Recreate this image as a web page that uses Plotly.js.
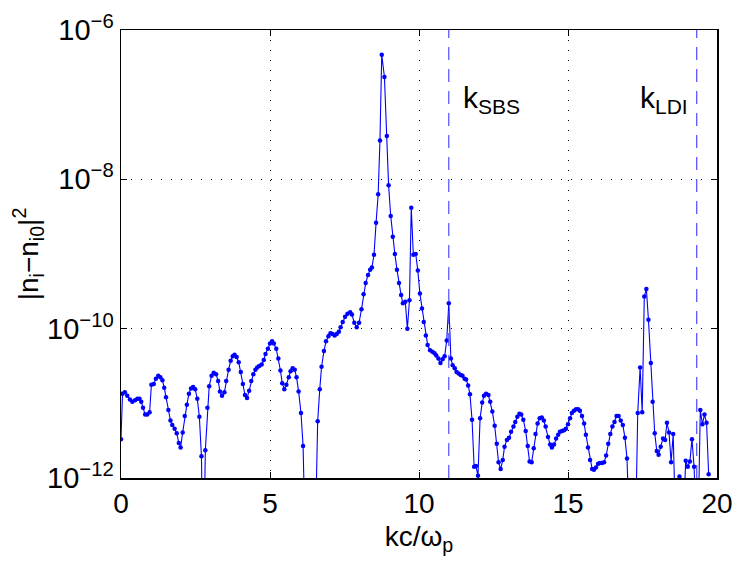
<!DOCTYPE html>
<html>
<head>
<meta charset="utf-8">
<script src="https://cdn.plot.ly/plotly-3.0.1.min.js"></script>
<style>html,body{margin:0;padding:0;background:#fff;}#plot{width:737px;height:563px;}</style>
</head>
<body>
<div id="plot"></div>
<script>
// wavenumber kc/omega_p
const kValues = [
0.00,0.05,0.13,0.21,0.30,0.38,0.47,0.55,0.62,0.68,0.74,0.81,0.88,0.96,1.02,1.10,1.17,1.25,1.32,1.39,
1.45,1.51,1.59,1.66,1.72,1.80,1.87,1.94,2.00,2.07,2.14,2.21,2.28,2.35,2.42,2.49,2.56,2.63,2.70,2.76,
2.83,2.90,2.96,3.04,3.11,3.19,3.26,3.32,3.39,3.47,3.53,3.61,3.68,3.75,3.81,3.88,3.95,4.02,4.09,4.16,
4.23,4.30,4.37,4.44,4.51,4.57,4.64,4.72,4.79,4.85,4.93,5.00,5.07,5.13,5.21,5.28,5.35,5.41,5.48,5.55,
5.63,5.69,5.76,5.83,5.89,5.96,6.04,6.11,6.18,6.25,6.32,6.39,6.46,6.53,6.60,6.67,6.73,6.81,6.88,6.96,
7.03,7.10,7.17,7.24,7.31,7.37,7.44,7.52,7.60,7.69,7.75,7.83,7.91,7.99,8.07,8.14,8.21,8.29,8.36,8.42,
8.49,8.56,8.63,8.69,8.75,8.84,8.92,8.98,9.05,9.12,9.19,9.26,9.33,9.40,9.46,9.54,9.61,9.68,9.74,9.81,
9.89,9.96,10.03,10.10,10.16,10.23,10.29,10.37,10.45,10.52,10.58,10.65,10.72,10.79,10.86,10.93,11.00,11.07,11.13,11.20,
11.26,11.33,11.40,11.46,11.53,11.58,11.65,11.71,11.78,11.85,11.91,11.98,12.05,12.12,12.18,12.25,12.33,12.39,12.46,12.54,
12.61,12.67,12.74,12.81,12.87,12.95,13.02,13.09,13.17,13.23,13.30,13.37,13.43,13.50,13.58,13.65,13.71,13.78,13.85,13.91,
13.98,14.05,14.12,14.19,14.25,14.33,14.40,14.46,14.53,14.60,14.67,14.73,14.80,14.87,14.93,15.00,15.07,15.13,15.20,15.27,
15.34,15.40,15.47,15.54,15.60,15.67,15.74,15.81,15.87,15.94,16.01,16.07,16.14,16.21,16.28,16.35,16.42,16.49,16.56,16.63,
16.70,16.77,16.84,16.91,16.98,17.05,17.12,17.19,17.26,17.34,17.42,17.49,17.56,17.63,17.70,17.78,17.84,17.91,17.98,18.04,
18.11,18.19,18.26,18.32,18.39,18.46,18.53,18.60,18.67,18.74,18.81,18.88,18.95,19.02,19.09,19.16,19.23,19.30,19.37,19.44,
19.51,19.58,19.65,19.72
];
// log10 of |n_i - n_i0|^2
const log10Power = [
-11.48,-10.87,-10.85,-10.90,-10.95,-10.98,-10.96,-10.94,-10.94,-10.98,-11.06,-11.15,-11.15,-11.12,-10.75,-10.74,-10.67,-10.63,-10.65,-10.69,
-10.79,-10.92,-11.09,-11.23,-11.29,-11.34,-11.40,-11.53,-11.59,-11.39,-11.17,-11.02,-10.87,-10.80,-10.78,-10.81,-10.94,-11.18,-11.71,-13.5,
-11.63,-11.06,-10.77,-10.63,-10.59,-10.61,-10.70,-10.84,-10.90,-10.85,-10.70,-10.55,-10.43,-10.37,-10.35,-10.38,-10.45,-10.58,-10.74,-10.89,
-10.93,-10.83,-10.70,-10.61,-10.55,-10.52,-10.50,-10.48,-10.42,-10.34,-10.27,-10.20,-10.17,-10.20,-10.27,-10.40,-10.56,-10.73,-10.81,-10.75,
-10.65,-10.57,-10.53,-10.55,-10.65,-10.84,-11.13,-11.57,-12.8,-13.5,-14.0,-13.5,-13.2,-12.6,-11.24,-10.81,-10.51,-10.30,-10.17,-10.10,
-10.06,-10.07,-10.09,-10.07,-10.04,-9.98,-9.91,-9.84,-9.80,-9.78,-9.81,-9.92,-9.98,-9.92,-9.74,-9.54,-9.39,-9.28,-9.21,-9.18,
-9.01,-8.58,-8.20,-7.48,-6.33,-6.63,-7.42,-8.08,-8.49,-8.77,-9.00,-9.21,-9.39,-9.55,-9.66,-9.64,-10.00,-9.62,-8.38,-9.01,
-9.00,-9.22,-9.53,-9.73,-9.91,-10.09,-10.22,-10.29,-10.31,-10.33,-10.36,-10.40,-10.46,-10.41,-10.37,-10.16,-9.66,-10.40,-10.49,-10.53,
-10.58,-10.60,-10.62,-10.63,-10.67,-10.68,-10.76,-10.88,-11.22,-11.85,-11.84,-11.97,-11.20,-10.99,-10.90,-10.87,-10.89,-10.98,-11.11,-11.30,
-11.54,-11.79,-11.88,-11.76,-11.58,-11.49,-11.46,-11.38,-11.31,-11.25,-11.18,-11.14,-11.15,-11.22,-11.37,-11.57,-11.78,-11.79,-11.60,-11.41,
-11.27,-11.20,-11.19,-11.23,-11.31,-11.45,-11.55,-11.59,-11.55,-11.47,-11.42,-11.38,-11.37,-11.36,-11.34,-11.28,-11.20,-11.13,-11.10,-11.08,
-11.08,-11.10,-11.17,-11.27,-11.42,-11.59,-11.76,-11.88,-11.89,-11.86,-11.81,-11.80,-11.80,-11.79,-11.70,-11.54,-11.41,-11.31,-11.25,-11.17,
-11.17,-11.23,-11.29,-11.46,-11.74,-12.6,-13.2,-13.5,-12.9,-11.13,-10.52,-11.12,-9.57,-9.47,-9.88,-10.46,-10.98,-11.40,-11.64,-11.69,
-11.58,-11.47,-11.49,-11.26,-11.39,-11.79,-11.41,-12.5,-12.6,-11.98,-12.5,-12.5,-11.77,-11.85,-11.78,-11.48,-11.85,-12.6,-12.6,-11.09,
-11.28,-11.15,-11.26,-11.95
];
// marker wavenumbers
const markerNames = ['SBS', 'LDI'];
const markerK = [11.0, 19.32];
const yRange = [1e-12, 1e-6];
const yTickVals = [1e-12, 1e-10, 1e-8, 1e-6];
const yTickText = ['10<sup>−12</sup>', '10<sup>−10</sup>', '10<sup>−8</sup>', '10<sup>−6</sup>'];
const xTickVals = [0, 5, 10, 15, 20];

const power = log10Power.map(v => Math.pow(10, v));
const blue = '#0000ff';
const fontFam = '"Liberation Sans", Arial, Helvetica, sans-serif';

const traces = [{
  x: kValues, y: power, type: 'scatter', mode: 'lines+markers',
  line: {color: blue, width: 1.1},
  marker: {color: blue, size: 4.5},
  hoverinfo: 'skip', showlegend: false
}];
markerK.forEach(k => {
  traces.push({
    x: [k, k], y: yRange, type: 'scatter', mode: 'lines',
    line: {color: '#3c3cff', width: 1.1, dash: '13px,9px'},
    hoverinfo: 'skip', showlegend: false
  });
});

const annXs = [11.42, 17.35];
const annotations = markerNames.map((n, i) => ({
  x: annXs[i], y: -6.93, xref: 'x', yref: 'y',
  text: 'k<sub>' + n + '</sub>', showarrow: false,
  xanchor: 'left', yanchor: 'middle',
  font: {family: fontFam, size: 30, color: '#000'}
}));

const layout = {
  width: 737, height: 563,
  margin: {l: 121, r: 20, t: 30, b: 85},
  paper_bgcolor: '#fff', plot_bgcolor: '#fff',
  font: {family: fontFam, size: 28, color: '#000'},
  xaxis: {
    range: [0, 20], tickvals: xTickVals, ticktext: xTickVals.map(String),
    ticks: 'inside', ticklen: 6, tickcolor: '#000', tickwidth: 1,
    showline: true, linecolor: '#000', linewidth: 1.5, mirror: 'ticks',
    showgrid: true, gridcolor: '#000', gridwidth: 1, griddash: '1px,9px',
    zeroline: false,
    tickfont: {size: 28},
    title: {text: 'kc/ω<sub>p</sub>', font: {size: 28}, standoff: 8}
  },
  yaxis: {
    type: 'log', range: [-12, -6], tickvals: yTickVals, ticktext: yTickText,
    ticks: 'inside', ticklen: 6, tickcolor: '#000', tickwidth: 1,
    showline: true, linecolor: '#000', linewidth: 1.5, mirror: 'ticks',
    showgrid: true, gridcolor: '#000', gridwidth: 1, griddash: '1px,9px',
    zeroline: false,
    tickfont: {size: 29},
    title: {text: '|n<sub>i</sub>−n<sub>i0</sub>|<sup>2</sup>', font: {size: 28}, standoff: 0}
  },
  annotations: annotations
};

Plotly.newPlot('plot', traces, layout, {displayModeBar: false, staticPlot: true});
</script>
</body>
</html>
